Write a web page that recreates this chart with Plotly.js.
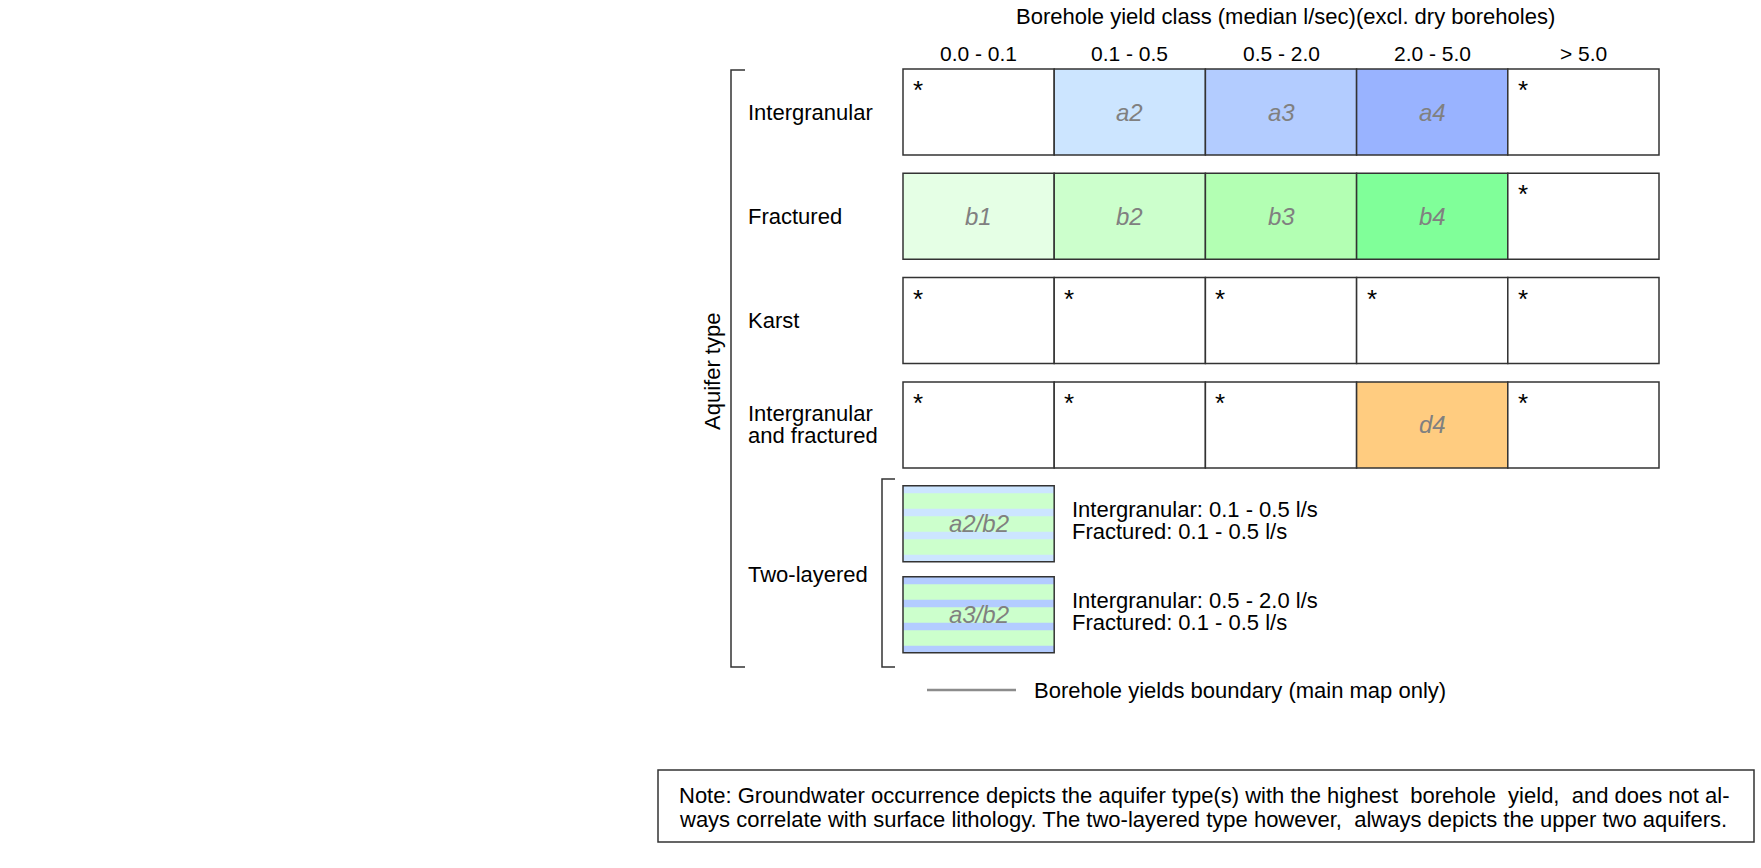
<!DOCTYPE html>
<html>
<head>
<meta charset="utf-8">
<script src="https://cdn.plot.ly/plotly-3.0.1.min.js"></script>
<style>html,body{margin:0;padding:0;background:#fff;}#chart{width:1761px;height:868px;}</style>
</head>
<body>
<div id="chart"></div>
<script>
// ---------------- data ----------------
const chartTitle = 'Borehole yield class (median l/sec)(excl. dry boreholes)';
const yieldClasses = ['0.0 - 0.1', '0.1 - 0.5', '0.5 - 2.0', '2.0 - 5.0', '> 5.0'];
const aquiferTypes = [['Intergranular'], ['Fractured'], ['Karst'], ['Intergranular', 'and fractured']];
const cellCodes = [
  ['*', 'a2', 'a3', 'a4', '*'],
  ['b1', 'b2', 'b3', 'b4', '*'],
  ['*', '*', '*', '*', '*'],
  ['*', '*', '*', 'd4', '*']
];
const twoLayerLabel = 'Two-layered';
const twoLayerCodes = ['a2/b2', 'a3/b2'];
const twoLayerUpper = ['a2', 'a3'];
const twoLayerLower = ['b2', 'b2'];
const twoLayerText = [
  ['Intergranular: 0.1 - 0.5 l/s', 'Fractured: 0.1 - 0.5 l/s'],
  ['Intergranular: 0.5 - 2.0 l/s', 'Fractured: 0.1 - 0.5 l/s']
];
const axisLabel = 'Aquifer type';
const legendLineText = 'Borehole yields boundary (main map only)';
const noteLines = [
  'Note: Groundwater occurrence depicts the aquifer type(s) with the highest\u00a0 borehole\u00a0 yield,\u00a0 and does not al-',
  'ways correlate with surface lithology. The two-layered type however,\u00a0 always depicts the upper two aquifers.'
];

// ---------------- styles ----------------
const codeColors = {
  a2: '#cce5ff', a3: '#b3ccff', a4: '#99b3ff',
  b1: '#e5ffe5', b2: '#ccffcc', b3: '#b3ffb3', b4: '#80ff99',
  d4: '#ffcc80'
};
const FONT = 'Liberation Sans, Arial, Helvetica, sans-serif';
const BORDER = '#333333';
const W = 1761, H = 868;
// axis geometry (pixels)
const COL0 = 903, COLW = 151.2;   // x = 0 at px 903, one column = 151.2 px
const ROW0 = 112, ROWH = 104.3;   // y = 0 at px 112, one row step = 104.3 px
const HH = 43 / ROWH;             // half cell height in row units
const TWO_LAYER_POS = [(523.7 - ROW0) / ROWH, (614.7 - ROW0) / ROWH];
const TWO_HH = 38 / ROWH;

const px = v => v / W;            // paper x from pixel
const py = v => 1 - v / H;        // paper y from pixel

const shapes = [];
const ann = [];

function txt(o) {
  return Object.assign({showarrow: false, font: {family: FONT, size: 22, color: '#000'}}, o);
}

// title and column headers
ann.push(txt({xref: 'x', yref: 'paper', x: 2.5, y: py(16), xshift: 4, text: chartTitle, xanchor: 'center', yanchor: 'middle'}));
yieldClasses.forEach((lab, c) => {
  ann.push(txt({xref: 'x', yref: 'paper', x: c + 0.5, y: py(53), text: lab, xanchor: 'center', yanchor: 'middle', font: {family: FONT, size: 21, color: '#000'}}));
});

// main grid cells
cellCodes.forEach((row, r) => {
  row.forEach((code, c) => {
    const fill = code === '*' ? '#ffffff' : codeColors[code];
    shapes.push({type: 'rect', xref: 'x', yref: 'y', x0: c, x1: c + 1, y0: r - HH, y1: r + HH,
      fillcolor: fill, line: {color: BORDER, width: 1.5}, layer: 'below'});
    if (code === '*') {
      ann.push(txt({xref: 'x', yref: 'y', x: c + 15 / COLW, y: r - HH + 21 / ROWH, text: '*', xanchor: 'center', yanchor: 'middle',
        font: {family: FONT, size: 26, color: '#000'}}));
    } else {
      ann.push(txt({xref: 'x', yref: 'y', x: c + 0.5, y: r, text: '<i>' + code + '</i>', xanchor: 'center', yanchor: 'middle',
        font: {family: FONT, size: 24, color: '#808080'}}));
    }
  });
});

// row labels
aquiferTypes.forEach((lines, r) => {
  lines.forEach((ln, k) => {
    const off = (k - (lines.length - 1) / 2) * 22 / ROWH;
    ann.push(txt({xref: 'paper', yref: 'y', x: px(746), y: r + off, text: ln, xanchor: 'left', yanchor: 'middle'}));
  });
});

// two-layered boxes
twoLayerCodes.forEach((code, i) => {
  const cy = TWO_LAYER_POS[i];
  const top = cy - TWO_HH, bot = cy + TWO_HH;
  shapes.push({type: 'rect', xref: 'x', yref: 'y', x0: 0, x1: 1, y0: top, y1: bot,
    fillcolor: codeColors[twoLayerLower[i]], line: {width: 0}, layer: 'below'});
  for (let k = 0; k < 4; k++) {
    const s0 = top + k * 23 / ROWH;
    const s1 = Math.min(s0 + 7.5 / ROWH, bot);
    shapes.push({type: 'rect', xref: 'x', yref: 'y', x0: 0, x1: 1, y0: s0, y1: s1,
      fillcolor: codeColors[twoLayerUpper[i]], line: {width: 0}, layer: 'below'});
  }
  shapes.push({type: 'rect', xref: 'x', yref: 'y', x0: 0, x1: 1, y0: top, y1: bot,
    fillcolor: 'rgba(0,0,0,0)', line: {color: BORDER, width: 1.5}, layer: 'below'});
  ann.push(txt({xref: 'x', yref: 'y', x: 0.5, y: cy, text: '<i>' + code + '</i>', xanchor: 'center', yanchor: 'middle',
    font: {family: FONT, size: 24, color: '#808080'}}));
  twoLayerText[i].forEach((ln, k) => {
    ann.push(txt({xref: 'paper', yref: 'y', x: px(1070), y: cy + (k - 0.5) * 22 / ROWH - 3 / ROWH, text: ln, xanchor: 'left', yanchor: 'middle'}));
  });
});
ann.push(txt({xref: 'paper', yref: 'y', x: px(746), y: (TWO_LAYER_POS[0] + TWO_LAYER_POS[1]) / 2 + 5 / ROWH, text: twoLayerLabel, xanchor: 'left', yanchor: 'middle'}));

// brackets
shapes.push({type: 'path', xref: 'paper', yref: 'paper',
  path: `M ${px(745)} ${py(70)} L ${px(731)} ${py(70)} L ${px(731)} ${py(667)} L ${px(745)} ${py(667)}`,
  line: {color: BORDER, width: 1.5}});
shapes.push({type: 'path', xref: 'paper', yref: 'paper',
  path: `M ${px(895)} ${py(479)} L ${px(882)} ${py(479)} L ${px(882)} ${py(667)} L ${px(895)} ${py(667)}`,
  line: {color: BORDER, width: 1.5}});
ann.push(txt({xref: 'paper', yref: 'paper', x: px(712), y: py(372), text: axisLabel, textangle: -90, xanchor: 'center', yanchor: 'middle'}));

// legend line
shapes.push({type: 'line', xref: 'paper', yref: 'paper', x0: px(927), x1: px(1016), y0: py(690), y1: py(690),
  line: {color: '#8c8c8c', width: 2.5}});
ann.push(txt({xref: 'paper', yref: 'paper', x: px(1032), y: py(690), text: legendLineText, xanchor: 'left', yanchor: 'middle'}));

// note box
shapes.push({type: 'rect', xref: 'paper', yref: 'paper', x0: px(658), x1: px(1754), y0: py(770), y1: py(842),
  fillcolor: 'rgba(0,0,0,0)', line: {color: BORDER, width: 1.5}});
noteLines.forEach((ln, k) => {
  ann.push(txt({xref: 'paper', yref: 'paper', x: px(677), y: py(795 + 24 * k), text: ln, xanchor: 'left', yanchor: 'middle',
    font: {family: FONT, size: 22, color: '#000'}}));
});

const layout = {
  width: W, height: H,
  margin: {l: 0, r: 0, t: 0, b: 0, pad: 0},
  paper_bgcolor: '#ffffff', plot_bgcolor: '#ffffff',
  showlegend: false,
  xaxis: {domain: [0, 1], range: [-COL0 / COLW, (W - COL0) / COLW], visible: false, fixedrange: true},
  yaxis: {domain: [0, 1], range: [(H - ROW0) / ROWH, -ROW0 / ROWH], visible: false, fixedrange: true},
  shapes: shapes,
  annotations: ann
};
Plotly.newPlot('chart', [{type: 'scatter', x: [], y: [], mode: 'markers', hoverinfo: 'skip'}], layout,
  {displayModeBar: false, staticPlot: true});
</script>
</body>
</html>
